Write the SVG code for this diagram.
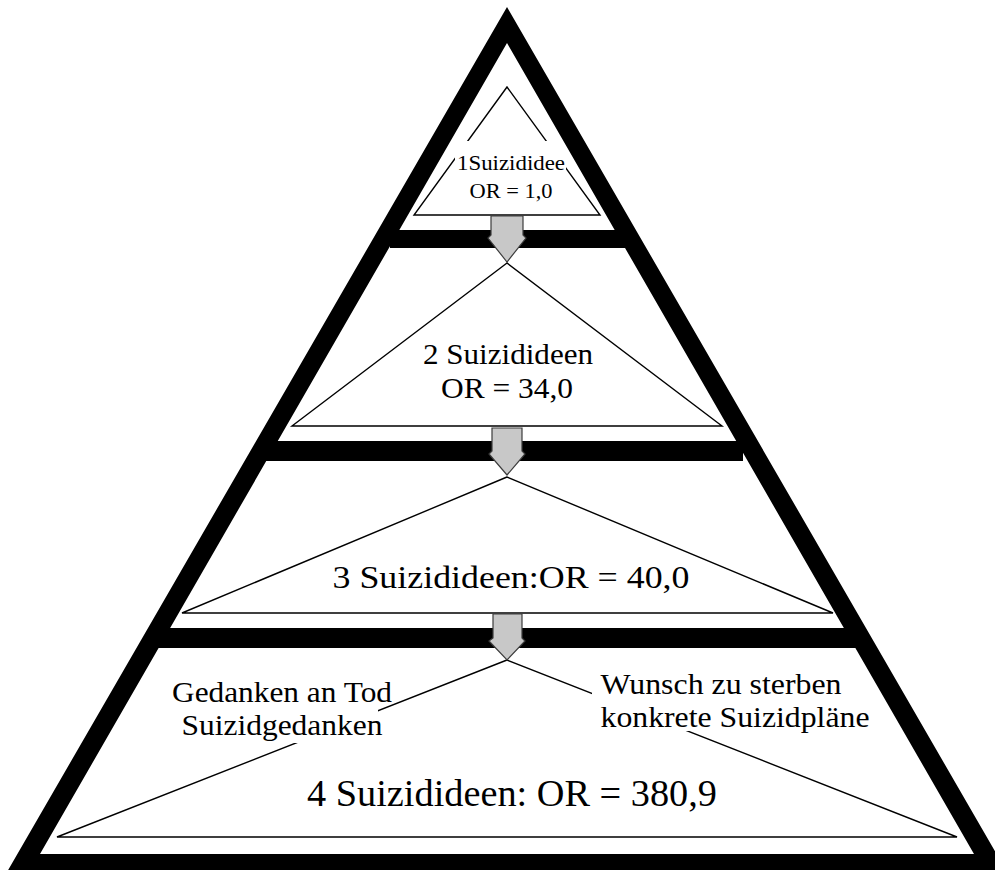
<svg xmlns="http://www.w3.org/2000/svg" width="995" height="870" viewBox="0 0 995 870">
<style>
.thin{fill:none;stroke:#000;stroke-width:1.4}
.arrow{fill:#c8c8c8;stroke:#3c3c3c;stroke-width:1.2}
.txt{font-family:"Liberation Serif","DejaVu Serif",serif;fill:#000;text-anchor:middle}
.bg{fill:#fff}
</style>
<rect x="0" y="0" width="995" height="870" fill="#fff"/>
<g id="level1">
<polygon class="thin" points="507,87 414,215 600,215"/>
<rect class="bg" x="455" y="141" width="111" height="31"/>
<text class="txt" x="511" y="170" font-size="22" textLength="108" lengthAdjust="spacingAndGlyphs">1Suizididee</text>
<text class="txt" x="511" y="198" font-size="22" textLength="83" lengthAdjust="spacingAndGlyphs">OR = 1,0</text>
</g>
<g id="level2">
<polygon class="thin" points="507,263 292,426 722,426"/>
<text class="txt" x="508" y="364" font-size="30" textLength="170" lengthAdjust="spacingAndGlyphs">2 Suizidideen</text>
<text class="txt" x="507" y="398" font-size="30" textLength="132" lengthAdjust="spacingAndGlyphs">OR = 34,0</text>
</g>
<g id="level3">
<polygon class="thin" points="507,477 182,613 833,613"/>
<text class="txt" x="511" y="588" font-size="32" textLength="357" lengthAdjust="spacingAndGlyphs">3 Suizidideen:OR = 40,0</text>
</g>
<g id="level4">
<polygon class="thin" points="507,660 57,837 957,837"/>
<rect class="bg" x="165" y="672" width="213" height="71"/>
<rect class="bg" x="592" y="665" width="283" height="66"/>
<text class="txt" x="282" y="702" font-size="30" textLength="220" lengthAdjust="spacingAndGlyphs">Gedanken an Tod</text>
<text class="txt" x="282" y="735" font-size="30" textLength="201" lengthAdjust="spacingAndGlyphs">Suizidgedanken</text>
<text class="txt" x="721" y="694" font-size="30" textLength="241" lengthAdjust="spacingAndGlyphs">Wunsch zu sterben</text>
<text class="txt" x="735" y="727" font-size="30" textLength="269" lengthAdjust="spacingAndGlyphs">konkrete Suizidpläne</text>
<text class="txt" x="512" y="806" font-size="38" textLength="410" lengthAdjust="spacingAndGlyphs">4 Suizidideen: OR = 380,9</text>
</g>
<g id="pyramid">
<path d="M507,7 L7,872 L1007,872 Z M507,43 L40,854 L974,854 Z" fill="#000" fill-rule="evenodd"/>
<rect x="390" y="230" width="238" height="18" fill="#000"/>
<rect x="262" y="441" width="481" height="20" fill="#000"/>
<rect x="155" y="628" width="703" height="20" fill="#000"/>
</g>
<g id="connectors">
<polygon class="arrow" points="491,216 523,216 523,235 526,238 507,262 488,238 491,235"/>
<polygon class="arrow" points="492,428 522,428 522,451 525,454 507,475 489,454 492,451"/>
<polygon class="arrow" points="493,614 522,614 522,638 525,641 507,660 489,641 493,638"/>
</g>
</svg>
